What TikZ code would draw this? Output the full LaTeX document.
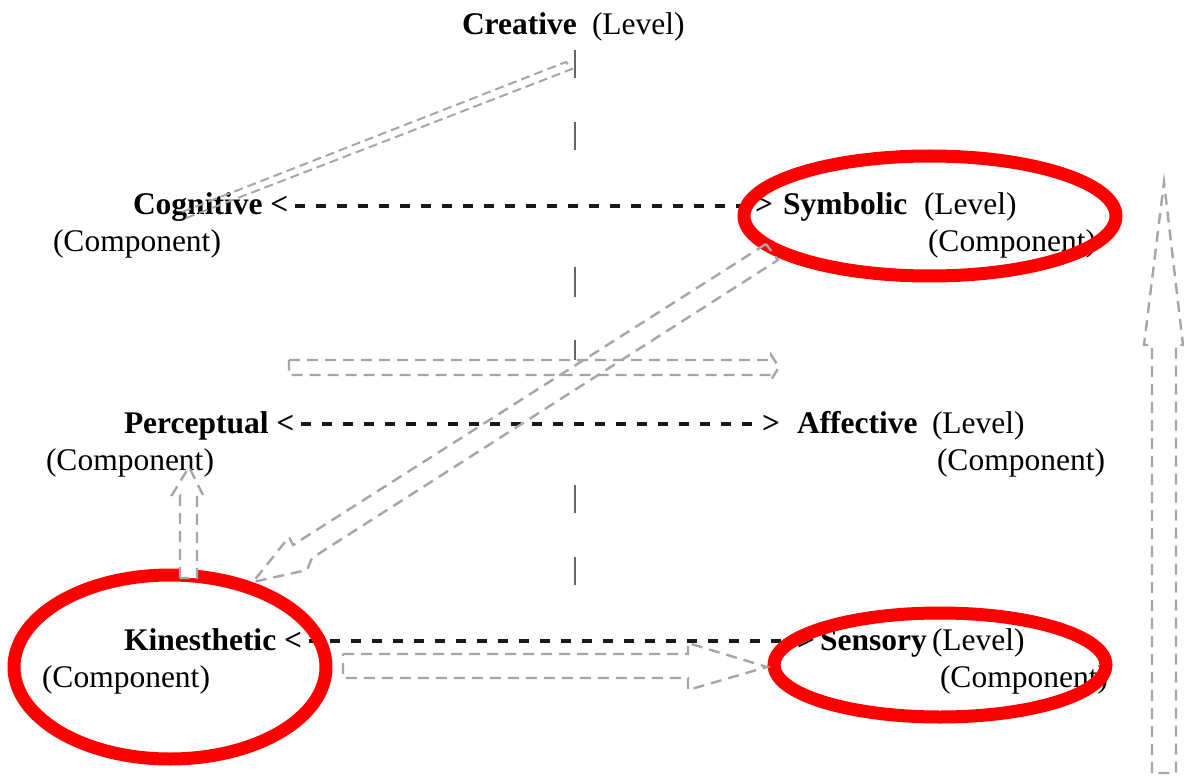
\documentclass[tikz,border=0pt]{standalone}
\usepackage{fontspec}
\setmainfont{Liberation Serif}
\begin{document}
\begin{tikzpicture}[x=1pt,y=-1pt,
  txt/.style={anchor=base west,inner sep=0pt,outer sep=0pt,font=\fontsize{31.5}{36}\selectfont},
  bold/.style={txt,font=\fontsize{31.5}{36}\selectfont\bfseries},
  rowline/.style={line width=4pt,dash pattern=on 10pt off 11pt,black!90},
  axisline/.style={line width=2pt,black!60},
  blockarrow/.style={draw=gray!70,line width=2.4pt,dash pattern=on 11pt off 7pt,line join=miter},
  ring/.style={draw=red,line width=13pt}]
\useasboundingbox (0,0) rectangle (1184,778);
\fill[white] (0,0) rectangle (1184,778);

% ---- texts
\node[bold] (cre) at (462,35) {Creative};
\node[txt] (creL) at (592,35) {(Level)};

\node[bold] (cog) at (133,215) {Cognitive <};
\node[bold] (cogGT) at (755,215) {>};
\node[bold] (sym) at (783,215) {Symbolic};
\node[txt] (symL) at (924,215) {(Level)};
\node[txt] (cogC) at (53,252) {(Component)};
\node[txt] (symC) at (928,252) {(Component)};

\node[bold] (per) at (124,433) {Perceptual <};
\node[bold] (perGT) at (762,433) {>};
\node[bold] (aff) at (797,433) {Affective};
\node[txt] (affL) at (932,433) {(Level)};
\node[txt] (perC) at (46,470) {(Component)};
\node[txt] (affC) at (937,470) {(Component)};

\node[bold] (kin) at (124,650) {Kinesthetic <};
\node[bold] (kinGT) at (797,650) {>};
\node[bold] (sen) at (820,650) {Sensory};
\node[txt] (senL) at (932,650) {(Level)};
\node[txt] (kinC) at (42,687) {(Component)};
\node[txt] (senC) at (940,687) {(Component)};

% ---- row connectors
\draw[rowline] ([xshift=7pt,yshift=9pt]cog.base east) -- ([xshift=-6pt,yshift=9pt]cogGT.base west);
\draw[rowline] ([xshift=7pt,yshift=9pt]per.base east) -- ([xshift=-6pt,yshift=9pt]perGT.base west);
\draw[rowline] ([xshift=7pt,yshift=9pt]kin.base east) -- ([xshift=-6pt,yshift=9pt]kinGT.base west);

% ---- central axis
\draw[axisline] (575,50) -- (575,78);
\draw[axisline] (575,122) -- (575,150);
\draw[axisline] (575,267) -- (575,297);
\draw[axisline] (575,340) -- (575,360);
\draw[axisline] (575,485) -- (575,513);
\draw[axisline] (575,557) -- (575,585);

% ---- red ellipses
\draw[ring] (930,216) ellipse [x radius=186pt, y radius=60pt];
\draw[ring] (170,667) ellipse [x radius=156pt, y radius=92pt];
\draw[ring] (940,665) ellipse [x radius=166pt, y radius=52pt];

% ---- grey block arrows
\draw[blockarrow,dash pattern=on 9pt off 5pt,line width=2pt] (186,218) -- (572,69) -- (566,62) -- (182,212);
\draw[blockarrow] (289,360) -- (771,360) -- (771,355) -- (779,367) -- (771,380) -- (771,375) -- (289,375) -- cycle;
\draw[blockarrow] (766,244) -- (293,545) -- (289,537) -- (253,582) -- (307,570) -- (312,558) -- (778,260) -- cycle;
\draw[blockarrow,fill=white] (180,578) -- (180,495) -- (172,495) -- (189,467) -- (203,495) -- (197,495) -- (197,578) -- cycle;
\draw[blockarrow] (343,654) -- (688,654) -- (688,643) -- (767,667) -- (688,690) -- (688,678) -- (343,678) -- cycle;
\draw[blockarrow] (1152,773) -- (1152,345) -- (1144,345) -- (1164,182) -- (1183,345) -- (1176,345) -- (1176,773) -- cycle;
\end{tikzpicture}
\end{document}
